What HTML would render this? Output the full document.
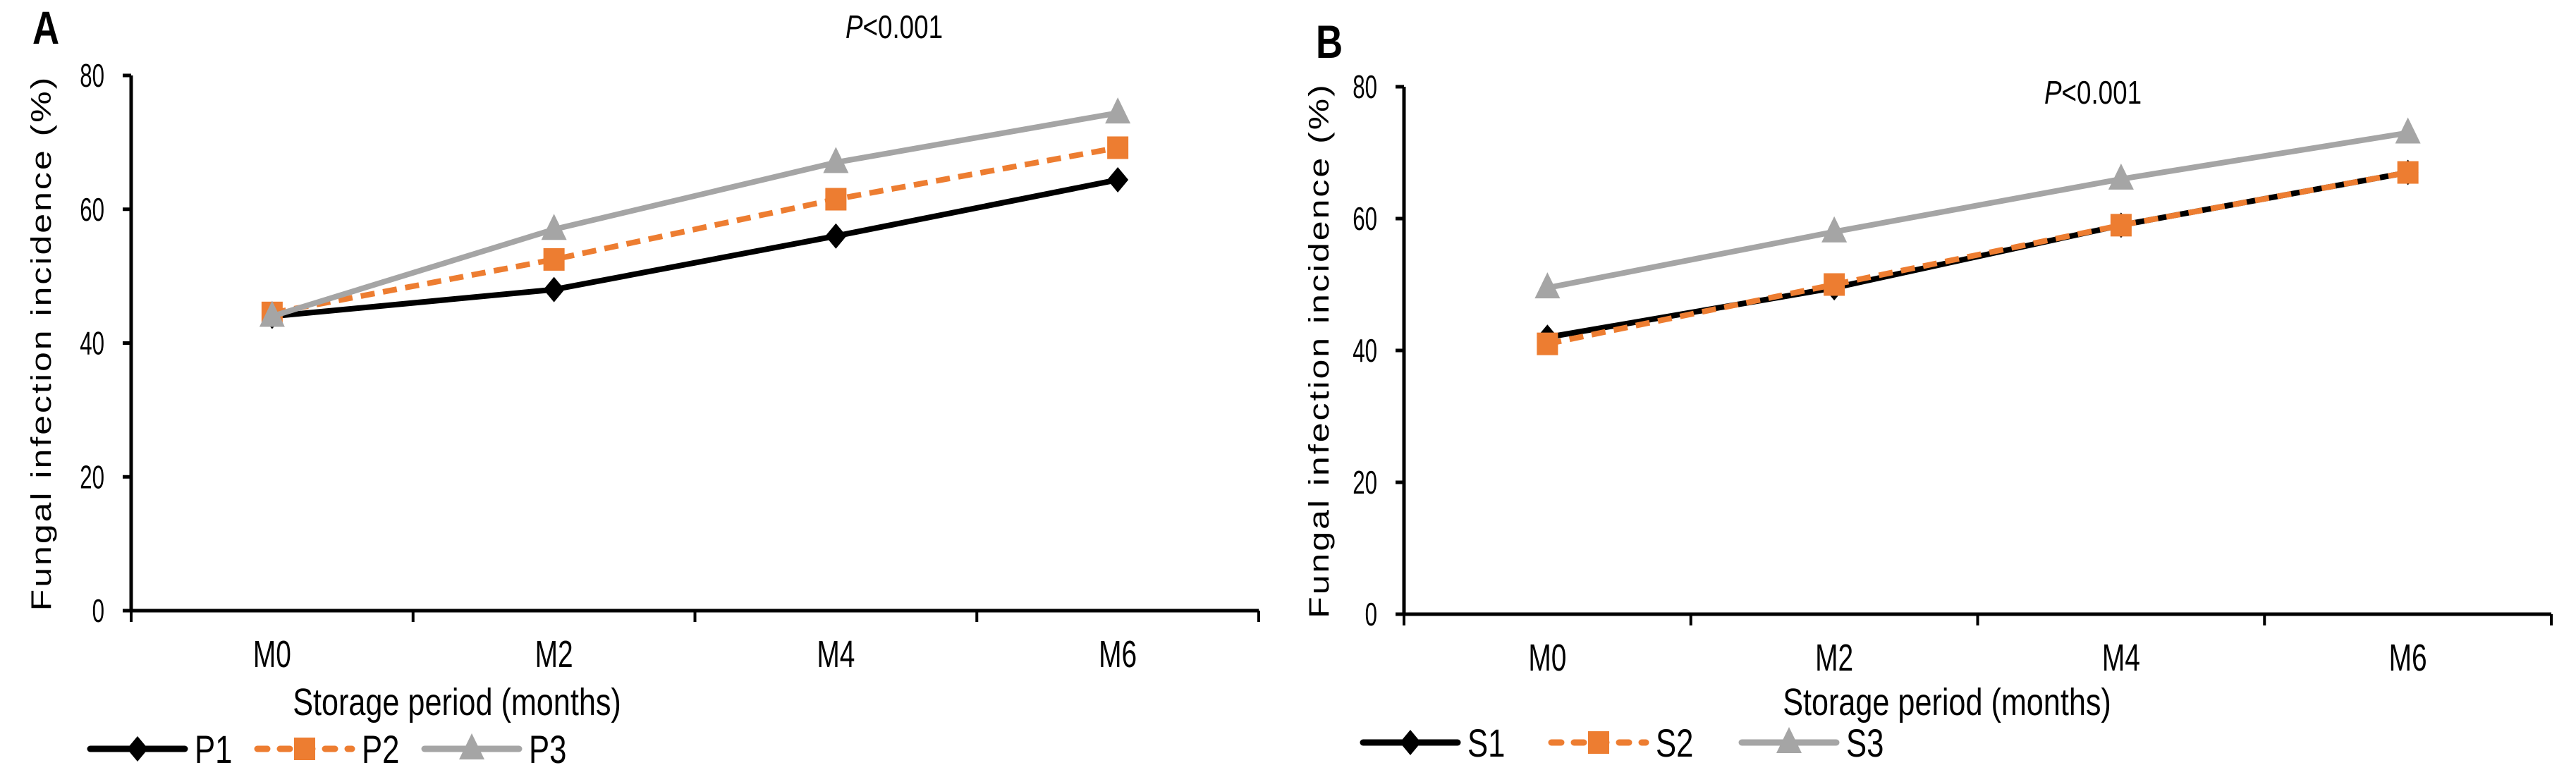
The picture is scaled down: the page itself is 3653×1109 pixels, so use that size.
<!DOCTYPE html>
<html><head><meta charset="utf-8"><style>
html,body{margin:0;padding:0;background:#fff}
svg{display:block}
text{font-family:"Liberation Sans",sans-serif;fill:#000}
</style></head><body>
<svg id="svg" width="3653" height="1109" xmlns="http://www.w3.org/2000/svg"></svg>
<script>
const categories = ["M0","M2","M4","M6"];
const yTicks = [0,20,40,60,80];
const seriesP1 = [44, 48, 56, 64.4];
const seriesP2 = [44.5, 52.5, 61.5, 69.2];
const seriesP3 = [44, 57, 67, 74.4];
const seriesS1 = [42, 49.5, 59, 67];
const seriesS2 = [41, 50, 59, 67];
const seriesS3 = [49.5, 58, 66, 73];
const namesA = ["P1","P2","P3"];
const namesB = ["S1","S2","S3"];

const NS="http://www.w3.org/2000/svg";
const svg=document.getElementById('svg');
function el(tag,attrs,parent){const e=document.createElementNS(NS,tag);for(const k in attrs)e.setAttribute(k,attrs[k]);(parent||svg).appendChild(e);return e;}
function txt(s,x,y,size,sx,anchor,parent,extra){
  const g=el('g',{transform:`translate(${x},${y}) ${extra||''} scale(${sx},1)`},parent);
  const t=el('text',{x:0,y:0,'font-size':size,'text-anchor':anchor||'middle'},g);
  t.textContent=s;return t;
}
const styles=[
  {stroke:'#000',dash:null,marker:'diamond'},
  {stroke:'#ED7D31',dash:'20,12',marker:'square'},
  {stroke:'#A5A5A5',dash:null,marker:'triangle'}
];
function marker(type,x,y,color,parent){
  let m;
  if(type==='diamond') m=el('polygon',{points:`${x},${y-18} ${x+15},${y} ${x},${y+18} ${x-15},${y}`,fill:color},parent);
  else if(type==='square') m=el('rect',{x:x-15,y:y-16,width:30,height:32,fill:color},parent);
  else m=el('polygon',{points:`${x},${y-22} ${x+18},${y+15} ${x-18},${y+15}`,fill:color},parent);
  return m;
}
function chart(cfg){
  const g=el('g',{});
  
  
  const band=(cfg.x1-cfg.x0)/categories.length;
  const xs=i=>cfg.x0+band*(i+0.5);
  const ys=v=>cfg.y0-(v/80)*(cfg.y0-cfg.y80);
  const ya=el('line',{x1:cfg.x0,y1:cfg.y80,x2:cfg.x0,y2:cfg.y0,stroke:'#000','stroke-width':5},g);
  
  const xa=el('line',{x1:cfg.x0-12,y1:cfg.y0,x2:cfg.x1,y2:cfg.y0,stroke:'#000','stroke-width':5},g);
  
  yTicks.forEach(v=>{
    const y=ys(v);
    el('line',{x1:cfg.x0-12,y1:y,x2:cfg.x0,y2:y,stroke:'#000','stroke-width':5},g);
    const t=txt(String(v),cfg.x0-38,y+16,46,0.68,'end',g);
    
  });
  for(let i=0;i<=categories.length;i++){
    const x=cfg.x0+band*i;
    el('line',{x1:x,y1:cfg.y0,x2:x,y2:cfg.y0+16,stroke:'#000','stroke-width':4},g);
  }
  categories.forEach((c,i)=>{
    const t=txt(c,xs(i),cfg.y0+80,54,0.72,'middle',g);
    
  });
  let t=txt('Storage period (months)',cfg.xTitleX,cfg.xTitleY,54,0.8,'middle',g);
  
  const yt=el('g',{transform:`translate(${cfg.yTitleX},${(cfg.y80+cfg.y0)/2}) scale(0.8,1) rotate(-90)`},g);
  const ytt=el('text',{x:0,y:0,'font-size':50,'text-anchor':'middle','letter-spacing':3},yt);
  ytt.textContent='Fungal infection incidence (%)';
  
  t=txt(cfg.label,cfg.labelX,cfg.labelY,66,0.8,'start',g);t.setAttribute('font-weight','bold');
  
  const pg=el('g',{transform:`translate(${cfg.pX},${cfg.pY}) scale(0.8,1)`},g);
  const pt=el('text',{x:0,y:0,'font-size':46,'text-anchor':'middle'},pg);
  
  const it=el('tspan',{'font-style':'italic'},pt);it.textContent='P';
  const rt=el('tspan',{},pt);rt.textContent='<0.001';
  cfg.series.forEach((vals,si)=>{
    const st=styles[si];
    const pts=vals.map((v,i)=>`${xs(i)},${ys(v)}`).join(' ');
    const pl=el('polyline',{points:pts,fill:'none',stroke:st.stroke,'stroke-width':8,'stroke-linejoin':'round'},g);
    if(st.dash)pl.setAttribute('stroke-dasharray',st.dash);
    
    
    vals.forEach((v,i)=>{
      const m=marker(st.marker,xs(i),ys(v),st.stroke,g);
      
      
    });
  });
  cfg.names.forEach((n,si)=>{
    const st=styles[si];const lx=cfg.legX[si];const ly=cfg.legY;
    const lg=el('g',{},g);
    
    
    const ln=el('line',{x1:lx,y1:ly,x2:lx+134,y2:ly,stroke:st.stroke,'stroke-width':9,'stroke-linecap':'round'},lg);
    if(st.dash)ln.setAttribute('stroke-dasharray','14,18');
    marker(st.marker,lx+67,ly,st.stroke,lg);
    txt(n,lx+148,ly+20,56,0.78,'start',lg);
  });
}
chart({name:'chart-a',label:'A',labelX:46,labelY:62,x0:186,x1:1785,y0:866,y80:107,
  series:[seriesP1,seriesP2,seriesP3],names:namesA,xTitleX:648,xTitleY:1014,yTitleX:72,
  pX:1268,pY:54,legX:[128,365,602],legY:1062});
chart({name:'chart-b',label:'B',labelX:1866,labelY:82,x0:1991,x1:3618,y0:871,y80:123,
  series:[seriesS1,seriesS2,seriesS3],names:namesB,xTitleX:2761,xTitleY:1014,yTitleX:1884,
  pX:2968,pY:147,legX:[1933,2200,2470],legY:1053});
</script>
</body></html>
